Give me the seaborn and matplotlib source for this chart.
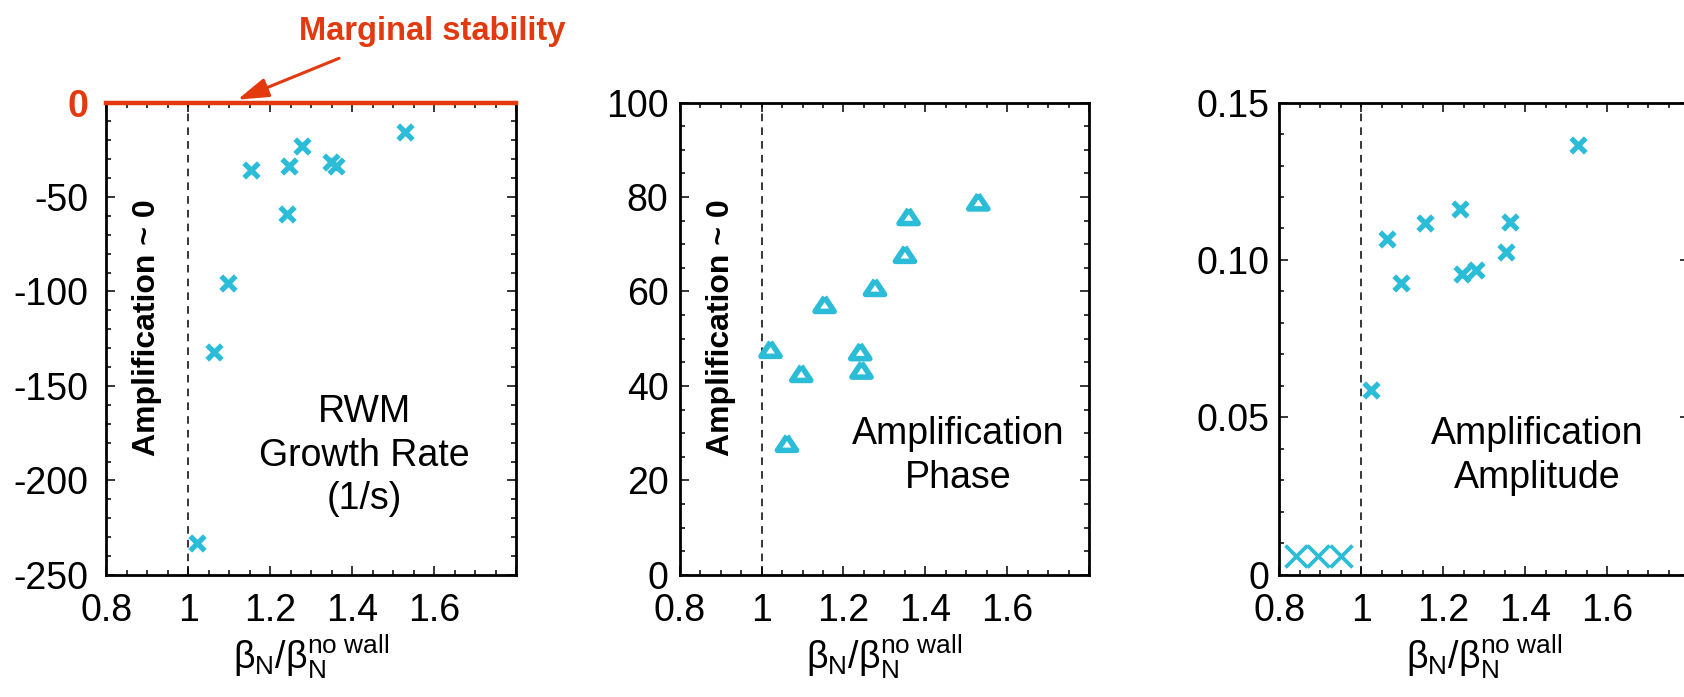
import matplotlib
matplotlib.use("Agg")
import matplotlib.pyplot as plt
from matplotlib import font_manager
from matplotlib.ticker import FixedLocator, FixedFormatter, MultipleLocator
import matplotlib.transforms as mtransforms
import seaborn as sns

# ---------------------------------------------------------------- data
# beta_N / beta_N(no wall) of each discharge, per quantity
beta_growth = [1.021, 1.062, 1.096, 1.153, 1.240, 1.245, 1.278, 1.349, 1.360, 1.530]
growth_rate = [-233, -132, -95.7, -35.7, -59.0, -33.4, -22.8, -31.6, -33.4, -15.8]

beta_phase = [1.022, 1.062, 1.097, 1.154, 1.241, 1.244, 1.277, 1.350, 1.359, 1.529]
amp_phase = [47.8, 27.9, 42.7, 57.3, 47.3, 43.4, 60.9, 67.9, 75.9, 79.0]

beta_amp = [1.024, 1.063, 1.098, 1.155, 1.242, 1.245, 1.281, 1.353, 1.362, 1.530]
amp_amplitude = [0.0588, 0.1066, 0.0926, 0.1117, 0.1161, 0.0956, 0.0969, 0.1024, 0.1120, 0.1366]

# below the no-wall limit the amplification is ~0
beta_low = [0.84, 0.895, 0.95]
amp_low = [0.006, 0.006, 0.006]

x_ticks = [0.8, 1.0, 1.2, 1.4, 1.6, 1.8]
x_ticklabels = ["0.8", "1", "1.2", "1.4", "1.6", ""]

growth_ticks = [-250, -200, -150, -100, -50, 0]
growth_ticklabels = ["-250", "-200", "-150", "-100", "-50", "0"]
phase_ticks = [0, 20, 40, 60, 80, 100]
phase_ticklabels = ["0", "20", "40", "60", "80", "100"]
amp_ticks = [0, 0.05, 0.10, 0.15]
amp_ticklabels = ["0", "0.05", "0.10", "0.15"]

panel_titles = ["RWM\nGrowth Rate\n(1/s)", "Amplification\nPhase", "Amplification\nAmplitude"]
near_zero_label = "Amplification ~ 0"
marginal_label = "Marginal stability"
x_label = r"$\mathregular{β_N/β_N^{no\ wall}}$"

# ---------------------------------------------------------------- style
CYAN = "#2BBCD8"
RED = "#E2390F"
FS = 27

sns.set_theme(style="ticks")
plt.rcParams["font.family"] = ["Liberation Sans", "DejaVu Sans"]
plt.rcParams["mathtext.fontset"] = "custom"
plt.rcParams["mathtext.rm"] = "Liberation Sans"
plt.rcParams["mathtext.it"] = "Liberation Sans:italic"
plt.rcParams["mathtext.bf"] = "Liberation Sans:bold"
plt.rcParams["axes.unicode_minus"] = False
plt.rcParams["text.color"] = "black"
plt.rcParams["axes.labelcolor"] = "black"
plt.rcParams["xtick.color"] = "black"
plt.rcParams["ytick.color"] = "black"

installed = {f.name for f in font_manager.fontManager.ttflist}
if "Liberation Sans Narrow" in installed:
    NARROW, near_zero_fs, marginal_fs = "Liberation Sans Narrow", 26.5, 27.5
else:
    NARROW, near_zero_fs, marginal_fs = "Liberation Sans", 23, 23.5

fig = plt.figure(figsize=(16.84, 6.97), dpi=100)
fig.patch.set_facecolor("white")
bottom, height, width = 0.17504, 0.6779, 0.2433
lefts = [0.06318, 0.40356, 0.75968]
axes = [fig.add_axes([l, bottom, width, height]) for l in lefts]


def style_axes(ax, ylim, yticks, ylabels, yminor, ypad):
    ax.set_facecolor("white")
    ax.set_xlim(0.8, 1.8)
    ax.set_ylim(*ylim)
    ax.xaxis.set_major_locator(FixedLocator(x_ticks))
    ax.xaxis.set_major_formatter(FixedFormatter(x_ticklabels))
    ax.xaxis.set_minor_locator(MultipleLocator(0.05))
    ax.yaxis.set_major_locator(FixedLocator(yticks))
    ax.yaxis.set_major_formatter(FixedFormatter(ylabels))
    ax.yaxis.set_minor_locator(MultipleLocator(yminor))
    ax.tick_params(which="both", direction="in", top=True, right=True,
                   width=1.1, color="black", labelcolor="black")
    ax.tick_params(which="major", length=6.5)
    ax.tick_params(which="minor", length=3.5)
    ax.tick_params(axis="x", which="major", pad=13, labelsize=FS)
    ax.tick_params(axis="y", which="major", pad=ypad, labelsize=FS)
    for sp in ax.spines.values():
        sp.set_linewidth(2.0)
        sp.set_color("black")
    ax.axvline(1.0, color="black", lw=1.1, ls=(0, (5, 4)), zorder=1)
    ax.set_xlabel(x_label, fontsize=FS, labelpad=2, color="black")
    ax.set_ylabel("")


def crosses(ax, x, y, size, lw):
    sns.scatterplot(x=x, y=y, ax=ax, marker="x", s=size, color=CYAN,
                    linewidth=lw, legend=False, zorder=3)
    coll = ax.collections[-1]
    coll.set_edgecolor(CYAN)
    coll.set_facecolor(CYAN)
    coll.set_linewidth(lw)


# ---------------------------------------------------------------- growth rate
ax1 = axes[0]
style_axes(ax1, (-250, 0), growth_ticks, growth_ticklabels, 10, 13)
crosses(ax1, beta_growth, growth_rate, 110, 3.8)
ax1.spines["top"].set_color(RED)
ax1.spines["top"].set_linewidth(3.2)
zero_label = ax1.get_yticklabels()[-1]
zero_label.set_color(RED)
zero_label.set_fontweight("bold")

# ---------------------------------------------------------------- phase
ax2 = axes[1]
style_axes(ax2, (0, 100), phase_ticks, phase_ticklabels, 5, 8)
tri = [(0, 0.75), (-1, -0.75), (1, -0.75), (0, 0.75)]
sns.scatterplot(x=beta_phase, y=amp_phase, ax=ax2, marker=tri, s=190,
                color=CYAN, legend=False, zorder=3)
coll = ax2.collections[-1]
coll.set_facecolor("none")
coll.set_edgecolor(CYAN)
coll.set_linewidth(4.0)

# ---------------------------------------------------------------- amplitude
ax3 = axes[2]
style_axes(ax3, (0, 0.15), amp_ticks, amp_ticklabels, 0.01, 7)
crosses(ax3, beta_amp, amp_amplitude, 110, 3.8)
crosses(ax3, beta_low, amp_low, 250, 2.7)

# ---------------------------------------------------------------- annotations
for ax, title in zip(axes, panel_titles):
    tx = 1.43 if ax is not ax2 else 1.48
    trans = mtransforms.blended_transform_factory(ax.transData, ax.transAxes)
    ax.text(tx, 0.252, title, transform=trans, ha="center", va="center",
            fontsize=FS, linespacing=1.27, multialignment="center", color="black")

for ax in (ax1, ax2):
    trans = mtransforms.blended_transform_factory(ax.transData, ax.transAxes)
    ax.text(0.9, 0.524, near_zero_label, transform=trans, rotation=90,
            ha="center", va="center", fontsize=near_zero_fs, fontweight="bold",
            family=[NARROW, "DejaVu Sans"], color="black")

fig.text(0.2569, 0.9433, marginal_label, color=RED, fontsize=marginal_fs,
         fontweight="bold", ha="center", va="baseline",
         family=[NARROW, "DejaVu Sans"])
ax1.annotate("", xy=(1.12, 1.5), xytext=(1.368, 23.4),
             xycoords="data", textcoords="data", annotation_clip=False,
             arrowprops=dict(arrowstyle="-|>,head_length=0.7,head_width=0.22",
                             mutation_scale=27, color=RED, lw=2.2,
                             shrinkA=0, shrinkB=0))

fig.savefig("out.png", dpi=100, facecolor="white")
